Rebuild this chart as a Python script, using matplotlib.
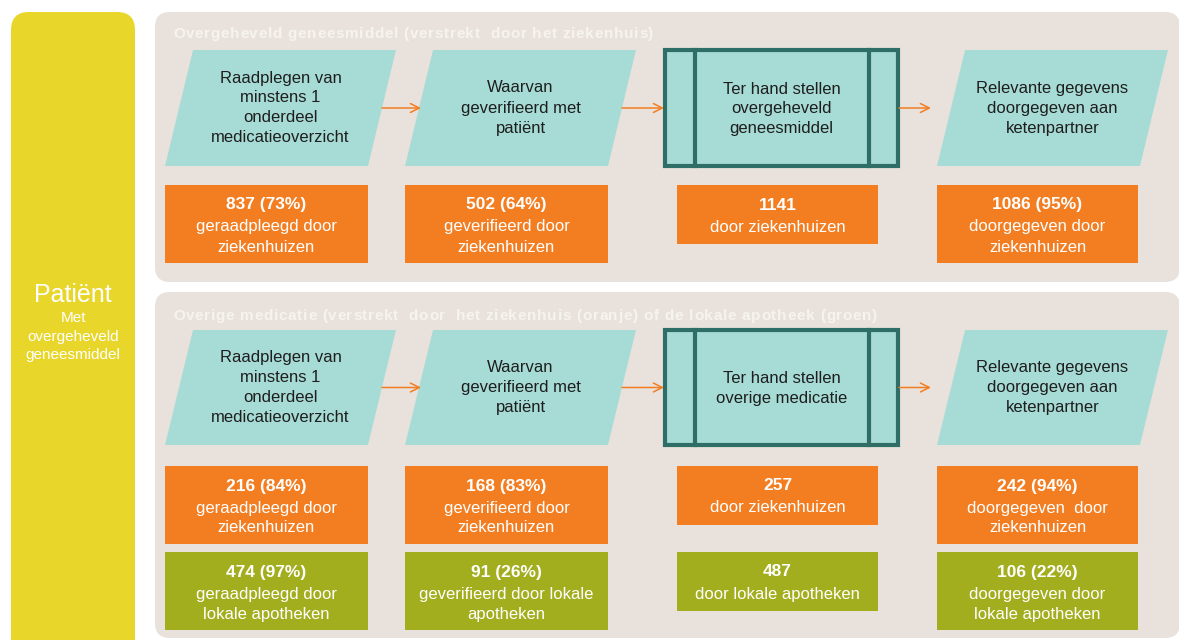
import matplotlib
matplotlib.use("Agg")
import matplotlib.pyplot as plt
from matplotlib.patches import FancyBboxPatch, Polygon, Rectangle
from matplotlib.font_manager import FontProperties

plt.rcParams['font.family'] = ['Liberation Sans', 'DejaVu Sans']

# ---------------- data ----------------
patient_title = "Patiënt"
patient_sub = ["Met", "overgeheveld", "geneesmiddel"]

panel_titles = ["Overgeheveld geneesmiddel (verstrekt  door het ziekenhuis)",
                "Overige medicatie (verstrekt  door  het ziekenhuis (oranje) of de lokale apotheek (groen)"]

steps_top = [["Raadplegen van", "minstens 1", "onderdeel", "medicatieoverzicht"],
             ["Waarvan", "geverifieerd met", "patiënt"],
             ["Ter hand stellen", "overgeheveld", "geneesmiddel"],
             ["Relevante gegevens", "doorgegeven aan", "ketenpartner"]]
steps_bottom = [["Raadplegen van", "minstens 1", "onderdeel", "medicatieoverzicht"],
                ["Waarvan", "geverifieerd met", "patiënt"],
                ["Ter hand stellen", "overige medicatie"],
                ["Relevante gegevens", "doorgegeven aan", "ketenpartner"]]

top_counts = [837, 502, 1141, 1086]
top_pct = [73, 64, None, 95]
top_desc = [["geraadpleegd door", "ziekenhuizen"], ["geverifieerd door", "ziekenhuizen"],
            ["door ziekenhuizen"], ["doorgegeven door", "ziekenhuizen"]]

hosp_counts = [216, 168, 257, 242]
hosp_pct = [84, 83, None, 94]
hosp_desc = [["geraadpleegd door", "ziekenhuizen"], ["geverifieerd door", "ziekenhuizen"],
             ["door ziekenhuizen"], ["doorgegeven  door", "ziekenhuizen"]]

pharm_counts = [474, 91, 487, 106]
pharm_pct = [97, 26, None, 22]
pharm_desc = [["geraadpleegd door", "lokale apotheken"], ["geverifieerd door lokale", "apotheken"],
              ["door lokale apotheken"], ["doorgegeven door", "lokale apotheken"]]

# ---------------- style ----------------
YELLOW = "#E9D62A"
PANEL = "#E9E2DC"
TEAL = "#A7DCD6"
DARKTEAL = "#2F6E66"
ORANGE = "#F37E22"
GREEN = "#A2AE1E"
DARK = "#1E1E1E"
TITLE = "#F7F4F0"

fig = plt.figure(figsize=(11.79, 6.4), dpi=100)
ax = fig.add_axes([0, 0, 1, 1])
ax.set_xlim(0, 1179)
ax.set_ylim(640, 0)
ax.axis('off')
fig.patch.set_facecolor("white")
renderer = fig.canvas.get_renderer()


def rbox(x, y, w, h, color, r=15):
    p = FancyBboxPatch((x, y), w, h, boxstyle=f"round,pad=0,rounding_size={r}",
                       fc=color, ec="none", zorder=1)
    ax.add_patch(p)


def lines_text(cx, cy, lines, size, color, spacing=20, weight="normal"):
    n = len(lines)
    for i, s in enumerate(lines):
        y = cy + (i - (n - 1) / 2) * spacing
        ax.text(cx, y, s, ha="center", va="center", fontsize=size, color=color,
                fontweight=weight, zorder=5)


def tracked_text(x0, y, s, size, color, track, weight="bold"):
    fp = FontProperties(family=['Liberation Sans', 'DejaVu Sans'], size=size, weight=weight)
    for i, ch in enumerate(s):
        if ch == " ":
            continue
        w = renderer.get_text_width_height_descent(s[:i] + "|", fp, ismath=False)[0] - \
            renderer.get_text_width_height_descent("|", fp, ismath=False)[0] if i > 0 else 0.0
        ax.text(x0 + w + i * track, y, ch, ha="left", va="baseline", fontproperties=fp,
                color=color, zorder=5)


# patient column
rbox(11, 12, 124, 660, YELLOW, r=18)
ax.text(73, 295, patient_title, ha="center", va="center", fontsize=18, color="white", zorder=5)
lines_text(73, 336.5, patient_sub, 11, "white", spacing=18.5)

# panels
rbox(155, 12, 1025, 270, PANEL, r=15)
rbox(155, 292, 1025, 346, PANEL, r=15)
tracked_text(173, 38, panel_titles[0], 11, TITLE, 0.72)
tracked_text(173, 320, panel_titles[1], 11, TITLE, 0.72)

# step shapes geometry
para_x = [165, 405, None, 937]  # bottom-left x
para_w = 203
slant = 28
proc_x0, proc_x1 = 665, 898
proc_inner = [695, 869]
arrows = [(382, 421), (622, 664), (899, 931)]


def draw_steps(y0, y1, steps):
    cy = (y0 + y1) / 2
    for i, st in enumerate(steps):
        if para_x[i] is None:
            ax.add_patch(Rectangle((proc_x0, y0), proc_x1 - proc_x0, y1 - y0, fc=TEAL,
                                   ec=DARKTEAL, lw=3, zorder=2))
            for xi in proc_inner:
                ax.plot([xi, xi], [y0, y1], color=DARKTEAL, lw=3, zorder=3)
            lines_text((proc_x0 + proc_x1) / 2, cy + 1, st, 12, DARK)
        else:
            bx = para_x[i]
            pts = [(bx, y1), (bx + para_w, y1), (bx + para_w + slant, y0), (bx + slant, y0)]
            ax.add_patch(Polygon(pts, closed=True, fc=TEAL, ec="none", zorder=2))
            lines_text(bx + para_w / 2 + slant / 2, cy, st, 12, DARK)
    for (a, b) in arrows:
        ax.annotate("", xy=(b, cy), xytext=(a, cy),
                    arrowprops=dict(arrowstyle="->", color=ORANGE, lw=1.1,
                                    mutation_scale=16, shrinkA=0, shrinkB=0), zorder=4)


draw_steps(50, 166, steps_top)
draw_steps(330, 445, steps_bottom)

box_x = [165, 405, 677, 937]
box_w = [203, 203, 201, 201]


def draw_boxes(ytop, counts, pcts, descs, color):
    for i in range(4):
        desc = descs[i]
        h = 78 if len(desc) > 1 else 59
        ax.add_patch(Rectangle((box_x[i], ytop), box_w[i], h, fc=color, ec="none", zorder=2))
        cx = box_x[i] + box_w[i] / 2
        label = f"{counts[i]}" if pcts[i] is None else f"{counts[i]} ({pcts[i]}%)"
        ax.text(cx, ytop + 20, label, ha="center", va="center", fontsize=12.5,
                fontweight="bold", color="white", zorder=5)
        for j, s in enumerate(desc):
            ax.text(cx, ytop + 42 + 20 * j, s, ha="center", va="center", fontsize=12,
                    color="white", zorder=5)


draw_boxes(185, top_counts, top_pct, top_desc, ORANGE)
draw_boxes(466, hosp_counts, hosp_pct, hosp_desc, ORANGE)
draw_boxes(552, pharm_counts, pharm_pct, pharm_desc, GREEN)

fig.savefig("out.png", dpi=100)
